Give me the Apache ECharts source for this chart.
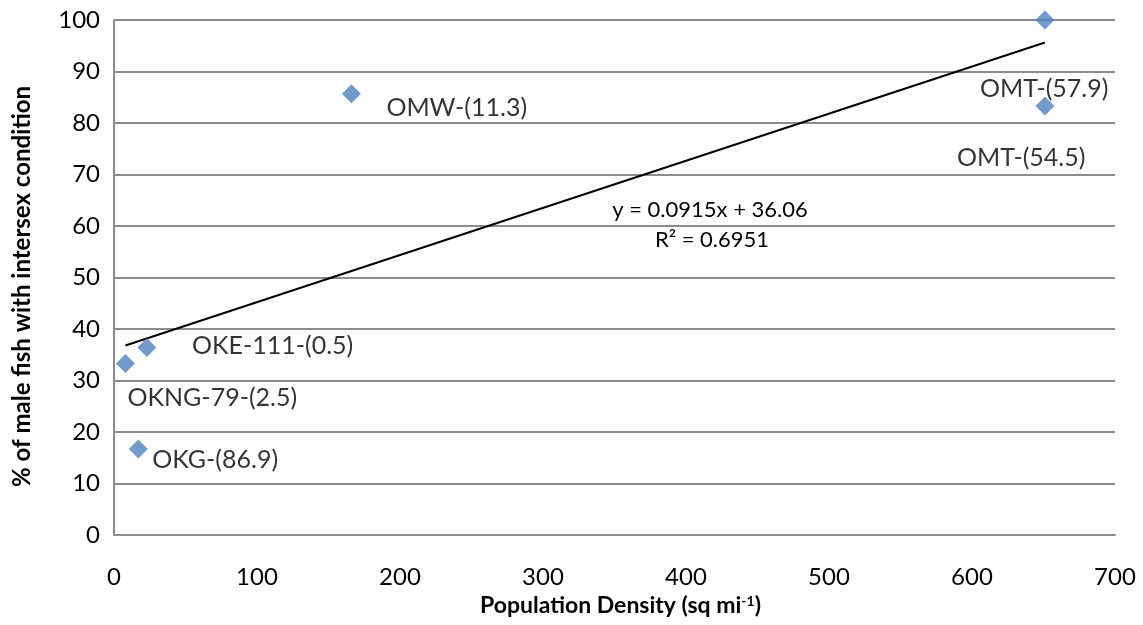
<!DOCTYPE html>
<html>
<head>
<meta charset="utf-8">
<script src="https://cdn.jsdelivr.net/npm/echarts@6/dist/echarts.min.js"></script>
<style>
  html, body { margin: 0; padding: 0; background: #fff; }
  #chart { width: 1143px; height: 625px; }
</style>
</head>
<body>
<div id="chart"></div>
<script>
// Sites: name, population density (sq mi^-1), % of male fish with intersex condition
const siteNames = ['OKNG-79-(2.5)', 'OKE-111-(0.5)', 'OKG-(86.9)', 'OMW-(11.3)', 'OMT-(54.5)', 'OMT-(57.9)'];
const density   = [8, 23, 17, 166, 651, 651];
const intersex  = [33.3, 36.4, 16.7, 85.7, 100, 83.3];

// Label offsets (px) relative to each marker
const labelOffsets = [[2, 34], [45, -2], [14, 11], [35, 14], [-88, 138], [-65, -17]];

// Linear trend line fitted to the points
const slope = 0.0915;
const intercept = 36.06;
const rSquared = 0.6951;

const xTicks = { min: 0, max: 700, interval: 100 };
const yTicks = { min: 0, max: 100, interval: 10 };

const FONT = 'Lato, "Open Sans", sans-serif';
const GRID_COLOR = '#8c8c8c';

const points = density.map((x, i) => ({
  value: [x, intersex[i]],
  name: siteNames[i],
  label: { offset: labelOffsets[i] }
}));

const xMin = Math.min(...density);
const xMax = Math.max(...density);
const trend = [[xMin, slope * xMin + intercept], [xMax, slope * xMax + intercept]];

const titleStyle = { fontFamily: FONT, fontWeight: 'bold', fontSize: 24, color: '#000' };

const chart = echarts.init(document.getElementById('chart'), null, { renderer: 'canvas' });
chart.setOption({
  animation: false,
  backgroundColor: '#ffffff',
  grid: { left: 114, right: 28, top: 20, bottom: 90, outerBoundsMode: 'none', containLabel: false },
  xAxis: {
    type: 'value',
    min: xTicks.min, max: xTicks.max, interval: xTicks.interval,
    name: 'Population Density (sq mi{sup|-1})',
    nameLocation: 'middle',
    nameGap: 59,
    nameTextStyle: Object.assign({}, titleStyle, {
      fontSize: 23,
      padding: [0, 0, 0, 12],
      rich: {
        sup: { fontFamily: FONT, fontWeight: 'bold', fontSize: 14, color: '#000', verticalAlign: 'top', padding: [0, 0, 8, 0] }
      }
    }),
    axisLine: { show: true, onZero: false, lineStyle: { color: GRID_COLOR, width: 2 } },
    axisTick: { show: false },
    splitLine: { show: false },
    axisLabel: { fontFamily: FONT, fontSize: 24, color: '#000', margin: 30 }
  },
  yAxis: {
    type: 'value',
    min: yTicks.min, max: yTicks.max, interval: yTicks.interval,
    name: '% of male fish with intersex condition',
    nameLocation: 'middle',
    nameGap: 80,
    nameTextStyle: Object.assign({}, titleStyle, { padding: [0, 18, 0, 0] }),
    axisLine: { show: true, lineStyle: { color: GRID_COLOR, width: 2 } },
    axisTick: { show: false },
    splitLine: { show: true, lineStyle: { color: GRID_COLOR, width: 2 } },
    axisLabel: { fontFamily: FONT, fontSize: 24, color: '#000', margin: 14 }
  },
  series: [
    {
      type: 'line',
      data: trend,
      showSymbol: false,
      symbol: 'none',
      lineStyle: { color: '#000', width: 2 },
      z: 2,
      silent: true
    },
    {
      type: 'scatter',
      data: points,
      symbol: 'diamond',
      symbolSize: 19,
      itemStyle: { color: '#4f81bd' },
      z: 3,
      label: {
        show: true,
        position: 'inside',
        align: 'left',
        verticalAlign: 'middle',
        formatter: p => p.name,
        fontFamily: FONT,
        fontSize: 25,
        color: '#000'
      }
    }
  ],
  graphic: [
    {
      type: 'text',
      x: 710, y: 210,
      style: { text: 'y = ' + slope + 'x + ' + intercept, fontFamily: FONT, fontSize: 22, fill: '#000', textAlign: 'center', textVerticalAlign: 'middle' }
    },
    {
      type: 'text',
      x: 712, y: 240,
      style: { text: 'R\u00B2 = ' + rSquared, fontFamily: FONT, fontSize: 22, fill: '#000', textAlign: 'center', textVerticalAlign: 'middle' }
    }
  ]
});
</script>
</body>
</html>
